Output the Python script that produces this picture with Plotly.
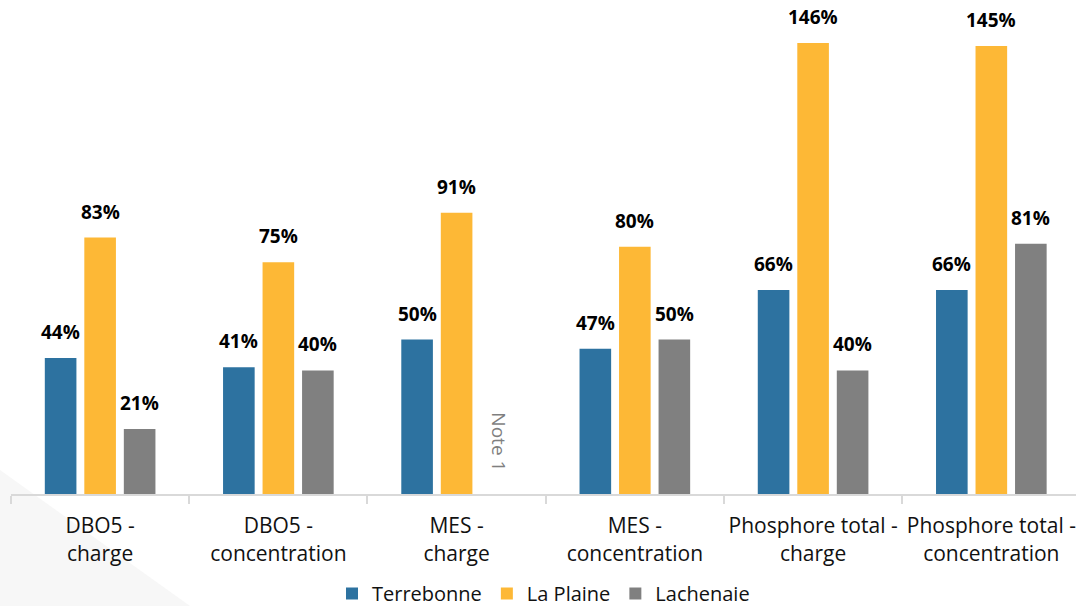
import plotly.graph_objects as go

categories = ["DBO5 -<br>charge", "DBO5 -<br>concentration", "MES -<br>charge",
              "MES -<br>concentration", "Phosphore total -<br>charge",
              "Phosphore total -<br>concentration"]
terrebonne = [44, 41, 50, 47, 66, 66]
la_plaine = [83, 75, 91, 80, 146, 145]
lachenaie = [21, 40, None, 50, 40, 81]
series_names = ["Terrebonne", "La Plaine", "Lachenaie"]
colors = ["#2D72A0", "#FDB836", "#808080"]
note_text = "Note 1"
note_category = "MES -<br>charge"

W, H = 1076, 606
ml, mr, mt, mb = 11, 0, 0, 112

fig = go.Figure()
all_series = [terrebonne, la_plaine, lachenaie]
for name, vals, col in zip(series_names, all_series, colors):
    fig.add_trace(go.Bar(x=categories, y=vals, name=name, marker_color=col,
                         marker_line_width=0))

offsets = [-39.5, 0, 39.5]
annotations = []
for vals, off in zip(all_series, offsets):
    for c, v in zip(categories, vals):
        if v is None:
            continue
        annotations.append(dict(x=c, y=v, text=f"<b>{v}%</b>", showarrow=False,
                                xshift=off, yanchor="bottom", yshift=11,
                                font=dict(family="Open Sans", size=19, color="#000000")))
annotations.append(dict(x=note_category, y=17, text=note_text, showarrow=False,
                        xshift=offsets[2] + 2, textangle=90,
                        font=dict(family="Open Sans", size=19, color="#7F7F7F")))

pw = W - ml - mr
ph = H - mt - mb
def px2paper(x, y):
    return ((x - ml) / pw, 1 - (y - mt) / ph)
p1 = px2paper(0, 470); p2 = px2paper(190, 606); p3 = px2paper(0, 606)
leg_y = px2paper(0, 574)[1]

fig.update_layout(
    width=W, height=H,
    margin=dict(l=ml, r=mr, t=mt, b=mb, autoexpand=False),
    paper_bgcolor="white", plot_bgcolor="rgba(0,0,0,0)",
    barmode="group", bargap=0.335, bargroupgap=0.2,
    font=dict(family="Open Sans", color="#111111"),
    annotations=annotations,
    shapes=[dict(type="path", xref="paper", yref="paper", layer="below",
                 path=f"M {p1[0]} {p1[1]} L {p2[0]} {p2[1]} L {p3[0]} {p3[1]} Z",
                 fillcolor="#F7F7F7", line=dict(width=0))],
    legend=dict(orientation="h", x=0.5, xanchor="center", y=leg_y, yanchor="top",
                font=dict(size=20, color="#111111"), traceorder="normal",
                itemwidth=30),
    xaxis=dict(showline=True, linecolor="#D9D9D9", linewidth=2, ticks="outside",
               tickson="boundaries", ticklen=8, tickcolor="#D9D9D9", tickwidth=2,
               range=[-0.5, 5.475], ticklabelstandoff=12, tickangle=0,
               automargin=False,
               tickfont=dict(size=21, color="#111111"), showgrid=False),
    yaxis=dict(range=[0, 159.9], visible=False, showgrid=False, zeroline=False,
               automargin=False),
)
fig.write_html("out.html")
